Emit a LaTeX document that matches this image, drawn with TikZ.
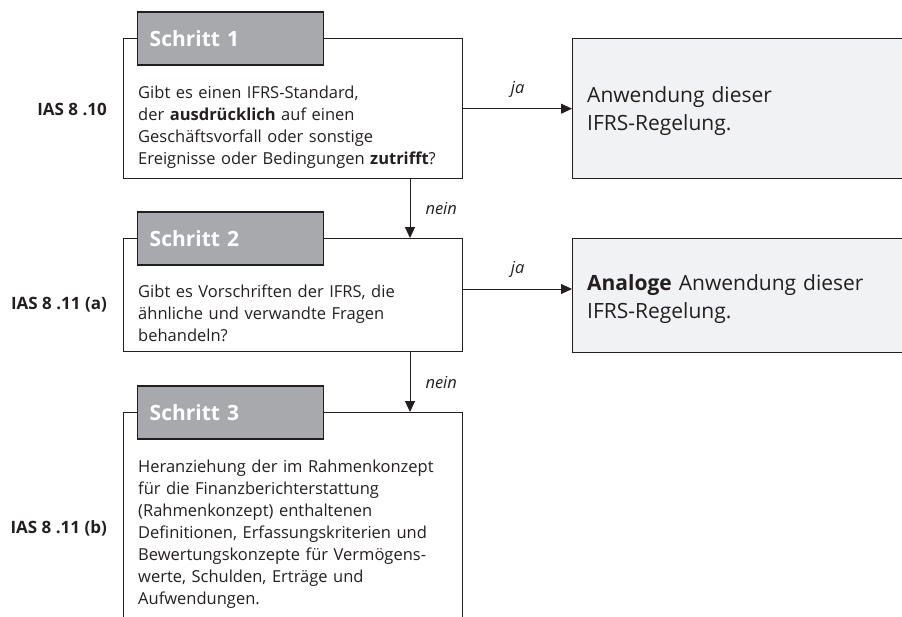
\documentclass[tikz,border=0pt]{standalone}
\usepackage{fontspec}
\setmainfont{Open Sans}
\usetikzlibrary{arrows.meta}
\definecolor{framegray}{HTML}{231F20}
\definecolor{headgray}{HTML}{A7A9AC}
\definecolor{resgray}{HTML}{F1F2F3}

\begin{document}
\begin{tikzpicture}[x=1pt,y=-1pt,
  stepbox/.style={draw=framegray,line width=1.4pt,anchor=north west,minimum width=339pt,inner sep=0pt},
  headbox/.style={draw=framegray,line width=1.4pt,fill=headgray,text=white,anchor=west,
    minimum height=53pt,text width=162pt,inner xsep=12pt,align=left,
    font=\fontsize{21}{24}\selectfont\bfseries},
  resbox/.style={draw=framegray,line width=1.4pt,fill=resgray,anchor=north west,minimum width=345pt,inner sep=0pt},
  body/.style={anchor=base west,text width=320pt,align=left,inner sep=0pt,text=framegray,font=\fontsize{16.5}{22}\selectfont},
  restext/.style={anchor=base west,text width=300pt,align=left,inner sep=0pt,text=framegray,font=\fontsize{21}{28}\selectfont},
  ias/.style={anchor=base east,inner sep=0pt,text=framegray,font=\fontsize{17}{20}\selectfont\bfseries},
  lbl/.style={inner sep=0pt,text=framegray,font=\fontsize{16.5}{20}\selectfont\itshape},
  arr/.style={draw=framegray,line width=1pt,-{Triangle[length=11pt,width=10pt]}}
]
\useasboundingbox (0,0) rectangle (902,616);
\clip (0,0) rectangle (902,616);

% The boxes
\node[stepbox,minimum height=140pt] (step1) at (123,38) {};
\node[stepbox,minimum height=113pt] (step2) at (123,238) {};
\node[stepbox,minimum height=220pt] (step3) at (123,412) {};
\node[resbox,minimum height=140pt] (res1) at (572,38) {};
\node[resbox,minimum height=114pt] (res2) at (572,238) {};

% The headers
\node[headbox] (head1) at (137,38.5) {Schritt 1};
\node[headbox] (head2) at (137,238.5) {Schritt 2};
\node[headbox] (head3) at (137,412.5) {Schritt 3};

% The texts
\node[body] (txt1) at (138,98) {Gibt es einen IFRS-Standard,\\der \textbf{ausdrücklich} auf einen\\Geschäftsvorfall oder sonstige\\Ereignisse oder Bedingungen \textbf{zutrifft}?};
\node[body] (txt2) at (138,297) {Gibt es Vorschriften der IFRS, die\\ähnliche und verwandte Fragen\\behandeln?};
\node[body] (txt3) at (138,472) {Heranziehung der im Rahmenkonzept\\für die Finanzberichterstattung\\(Rahmenkonzept) enthaltenen\\Definitionen, Erfassungskriterien und\\Bewertungskonzepte für Vermögens-\\werte, Schulden, Erträge und\\Aufwendungen.};
\node[restext] (rtxt1) at (587,102) {Anwendung dieser\\IFRS-Regelung.};
\node[restext] (rtxt2) at (587,290) {\textbf{Analoge} Anwendung dieser\\IFRS-Regelung.};

% The references
\node[ias] (ias1) at (107,115) {IAS 8 .10};
\node[ias] (ias2) at (107,309) {IAS 8 .11 (a)};
\node[ias] (ias3) at (107,533) {IAS 8 .11 (b)};

% The arrows
\coordinate (down) at (410,0);
\coordinate (yes2) at (0,289);
\draw[arr] (step1.east) -- (res1.west) node[lbl,midway,above=11pt] {ja};
\draw[arr] (step2.east |- yes2) -- (res2.west |- yes2) node[lbl,midway,above=11pt] {ja};
\draw[arr] (down |- step1.south) -- (down |- step2.north) node[lbl,midway,anchor=west,xshift=15pt] {nein};
\draw[arr] (down |- step2.south) -- (down |- step3.north) node[lbl,midway,anchor=west,xshift=15pt] {nein};
\end{tikzpicture}
\end{document}
